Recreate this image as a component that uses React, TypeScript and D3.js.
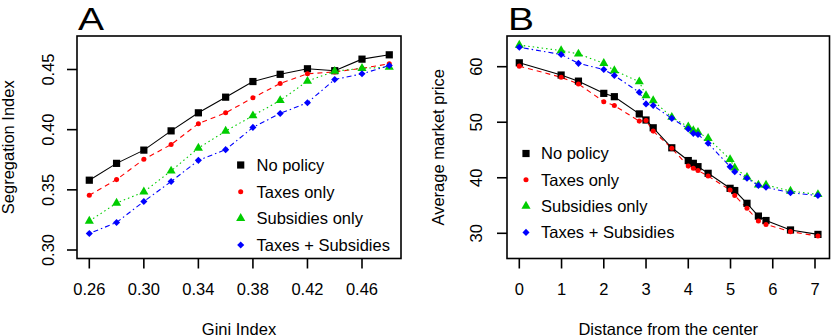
import React from "react";
import * as d3 from "d3";

// ---------- Data ----------
const giniIndex = [0.26, 0.28, 0.3, 0.32, 0.34, 0.36, 0.38, 0.4, 0.42, 0.44, 0.46, 0.48];
const segNoPolicy = [0.358, 0.372, 0.383, 0.399, 0.414, 0.427, 0.44, 0.446, 0.4506, 0.449, 0.4586, 0.4622];
const segTaxes = [0.3455, 0.3585, 0.3754, 0.3876, 0.405, 0.414, 0.4265, 0.4384, 0.4464, 0.448, 0.451, 0.4547];
const segSubsidies = [0.324, 0.339, 0.3483, 0.3657, 0.3847, 0.3988, 0.4116, 0.4243, 0.4403, 0.4486, 0.451, 0.4519];
const segBoth = [0.3137, 0.3229, 0.3403, 0.3569, 0.3745, 0.3834, 0.4019, 0.4135, 0.4224, 0.4417, 0.4464, 0.4533];

const distance = [0, 0.99, 1.4, 2.0, 2.25, 2.84, 3.0, 3.17, 3.61, 4.0, 4.12, 4.23, 4.47, 4.99, 5.1, 5.39, 5.66, 5.84, 6.42, 7.07];
const priceNoPolicy = [60.7, 58.5, 57.4, 55.2, 54.6, 51.5, 50.4, 49.0, 45.4, 43.1, 42.6, 42.0, 40.8, 38.1, 37.7, 35.4, 33.1, 32.3, 30.6, 29.8];
const priceTaxes = [60.1, 58.1, 56.9, 53.7, 53.0, 50.2, 50.3, 48.4, 45.3, 42.1, 41.7, 41.3, 40.3, 37.8, 36.8, 34.5, 32.2, 31.6, 30.3, 29.5];
const priceSubsidies = [63.9, 62.9, 62.3, 60.6, 59.3, 57.3, 54.8, 53.9, 50.9, 49.2, 48.5, 48.2, 47.1, 43.3, 41.8, 40.1, 38.7, 38.7, 37.6, 37.0];
const priceBoth = [63.5, 62.2, 60.6, 59.5, 58.4, 55.4, 53.3, 53.0, 50.7, 48.8, 48.0, 47.8, 46.2, 42.0, 41.1, 39.9, 38.6, 38.3, 37.3, 36.8];

const seriesNames = ["No policy", "Taxes only", "Subsidies only", "Taxes + Subsidies"];
const xTicksA = [0.26, 0.3, 0.34, 0.38, 0.42, 0.46];
const yTicksA = [0.3, 0.35, 0.4, 0.45];
const xTicksB = [0, 1, 2, 3, 4, 5, 6, 7];
const yTicksB = [30, 40, 50, 60];

// ---------- Styles ----------
const FONT = "'Liberation Sans', Arial, Helvetica, sans-serif";
const FS = 16.5;
const styles = [
  { color: "#000000", dash: null, symbol: "square" },
  { color: "#FF0000", dash: "5,4", symbol: "circle" },
  { color: "#00CD00", dash: "1.5,3", symbol: "triangle" },
  { color: "#0000FF", dash: "1.5,3,5,3", symbol: "diamond" },
];

function symbolPath(kind: string): string {
  const s = d3.symbol();
  if (kind === "square") return s.type(d3.symbolSquare).size(52)()!;
  if (kind === "circle") return s.type(d3.symbolCircle).size(20)()!;
  if (kind === "triangle") return s.type(d3.symbolTriangle).size(36)()!;
  return s.type(d3.symbolSquare).size(25)()!;
}

function Marker({ x, y, i }: { x: number; y: number; i: number }) {
  const st = styles[i];
  const rot = st.symbol === "diamond" ? " rotate(45)" : "";
  return <path d={symbolPath(st.symbol)} transform={`translate(${x},${y})${rot}`} fill={st.color} />;
}

type PanelProps = {
  label: string;
  labelX: number;
  box: { l: number; t: number; r: number; b: number };
  xs: number[];
  ys: number[][];
  xDomain: [number, number];
  xRange: [number, number];
  yDomain: [number, number];
  yRange: [number, number];
  xTicks: number[];
  yTicks: number[];
  xFmt: (v: number) => string;
  yFmt: (v: number) => string;
  xTitle: string;
  yTitle: string;
  yTitleX: number;
  yTickLabelX: number;
  legend: { sx: number; tx: number; y0: number; dy: number };
};

function Panel(p: PanelProps) {
  const x = d3.scaleLinear().domain(p.xDomain).range(p.xRange);
  const y = d3.scaleLinear().domain(p.yDomain).range(p.yRange);
  const line = d3
    .line<[number, number]>()
    .x((d) => x(d[0]))
    .y((d) => y(d[1]));
  const { l, t, r, b } = p.box;
  const tick = 10;
  return (
    <g>
      <text
        transform={`translate(${p.labelX},30) scale(1.22,1)`}
        fontSize={32}
        fontFamily={FONT}
      >
        {p.label}
      </text>
      {/* series lines */}
      {p.ys.map((ser, i) => (
        <path
          key={"l" + i}
          d={line(p.xs.map((xv, j) => [xv, ser[j]] as [number, number]))!}
          fill="none"
          stroke={styles[i].color}
          strokeWidth={1.1}
          strokeDasharray={styles[i].dash ?? undefined}
        />
      ))}
      {/* markers */}
      {p.ys.map((ser, i) =>
        ser.map((v, j) => <Marker key={`m${i}-${j}`} x={x(p.xs[j])} y={y(v)} i={i} />)
      )}
      {/* box */}
      <rect x={l} y={t} width={r - l} height={b - t} fill="none" stroke="#000" strokeWidth={1.6} />
      {/* x axis */}
      {p.xTicks.map((tv) => (
        <g key={"xt" + tv}>
          <line x1={x(tv)} x2={x(tv)} y1={b} y2={b + tick} stroke="#000" strokeWidth={1.6} />
          <text x={x(tv)} y={295} fontSize={FS} fontFamily={FONT} textAnchor="middle">
            {p.xFmt(tv)}
          </text>
        </g>
      ))}
      {/* y axis */}
      {p.yTicks.map((tv) => (
        <g key={"yt" + tv}>
          <line x1={l - tick} x2={l} y1={y(tv)} y2={y(tv)} stroke="#000" strokeWidth={1.6} />
          <text
            transform={`translate(${p.yTickLabelX},${y(tv)}) rotate(-90)`}
            fontSize={FS}
            fontFamily={FONT}
            textAnchor="middle"
          >
            {p.yFmt(tv)}
          </text>
        </g>
      ))}
      <text x={(l + r) / 2} y={334.5} fontSize={FS} fontFamily={FONT} textAnchor="middle">
        {p.xTitle}
      </text>
      <text
        transform={`translate(${p.yTitleX},${(t + b) / 2}) rotate(-90)`}
        fontSize={FS}
        fontFamily={FONT}
        textAnchor="middle"
      >
        {p.yTitle}
      </text>
      {/* legend */}
      {seriesNames.map((name, i) => {
        const cy = p.legend.y0 + i * p.legend.dy;
        return (
          <g key={"lg" + i}>
            <Marker x={p.legend.sx} y={cy} i={i} />
            <text x={p.legend.tx} y={cy + 5.9} fontSize={FS} fontFamily={FONT}>
              {name}
            </text>
          </g>
        );
      })}
    </g>
  );
}

export default function App() {
  return (
    <svg
      width={831}
      height={336}
      style={{ position: "absolute", left: 0, top: 0, background: "#fff" }}
    >
      <rect x={0} y={0} width={831} height={336} fill="#fff" />
      <Panel
        label="A"
        labelX={78}
        box={{ l: 77, t: 36, r: 401, b: 258.5 }}
        xs={giniIndex}
        ys={[segNoPolicy, segTaxes, segSubsidies, segBoth]}
        xDomain={[0.26, 0.46]}
        xRange={[89.3, 362]}
        yDomain={[0.3, 0.45]}
        yRange={[250, 69.5]}
        xTicks={xTicksA}
        yTicks={yTicksA}
        xFmt={(v) => v.toFixed(2)}
        yFmt={(v) => v.toFixed(2)}
        xTitle="Gini Index"
        yTitle="Segregation Index"
        yTitleX={14}
        yTickLabelX={54}
        legend={{ sx: 240.7, tx: 256.5, y0: 165, dy: 26.67 }}
      />
      <Panel
        label="B"
        labelX={508}
        box={{ l: 507, t: 36, r: 829.5, b: 258.5 }}
        xs={distance}
        ys={[priceNoPolicy, priceTaxes, priceSubsidies, priceBoth]}
        xDomain={[0, 7]}
        xRange={[519.3, 815]}
        yDomain={[30, 60]}
        yRange={[233.3, 66.7]}
        xTicks={xTicksB}
        yTicks={yTicksB}
        xFmt={(v) => String(v)}
        yFmt={(v) => String(v)}
        xTitle="Distance from the center"
        yTitle="Average market price"
        yTitleX={443.5}
        yTickLabelX={481.5}
        legend={{ sx: 526, tx: 541, y0: 153.5, dy: 26.3 }}
      />
    </svg>
  );
}
